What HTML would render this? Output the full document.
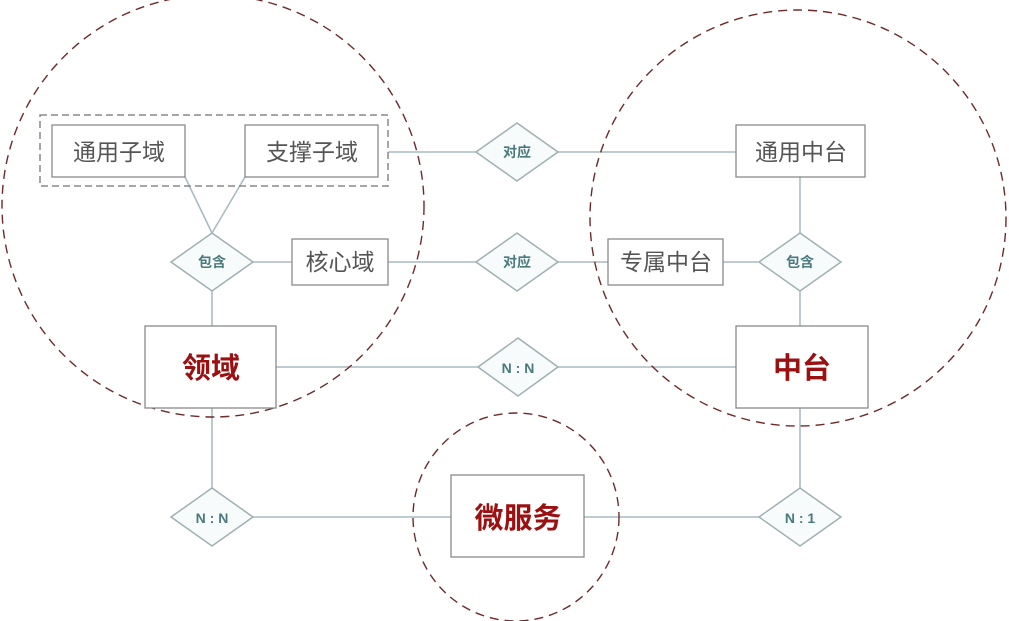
<!DOCTYPE html>
<html><head><meta charset="utf-8"><style>
html,body{margin:0;padding:0;background:#fff;}
svg{display:block;}
text{font-family:"Liberation Sans","Noto Sans CJK SC",sans-serif;}
</style></head><body>
<svg width="1009" height="621" viewBox="0 0 1009 621" xmlns="http://www.w3.org/2000/svg">
<g fill="none" stroke="#a9bcc4" stroke-width="1.6">
<line x1="185" y1="177" x2="212" y2="233"/>
<line x1="245" y1="177" x2="212" y2="233"/>
<line x1="253" y1="262" x2="292" y2="262"/>
<line x1="212" y1="291" x2="212" y2="326"/>
<line x1="388" y1="152" x2="476" y2="152"/>
<line x1="558" y1="152" x2="736" y2="152"/>
<line x1="388" y1="262" x2="476" y2="262"/>
<line x1="558" y1="262" x2="608" y2="262"/>
<line x1="723" y1="262" x2="758" y2="262"/>
<line x1="800" y1="177" x2="800" y2="233"/>
<line x1="800" y1="291" x2="800" y2="326"/>
<line x1="276" y1="367" x2="478" y2="367"/>
<line x1="558" y1="367" x2="736" y2="367"/>
<line x1="212" y1="408" x2="212" y2="488"/>
<line x1="253" y1="517" x2="451" y2="517"/>
<line x1="584" y1="517" x2="759" y2="517"/>
<line x1="800" y1="408" x2="800" y2="488"/>
</g>
<g fill="none" stroke="#6e2a2a" stroke-width="1.4" stroke-dasharray="9,6">
<circle cx="213" cy="206" r="211"/>
<circle cx="798" cy="218" r="208"/>
<ellipse cx="516" cy="517" rx="103" ry="104"/>
</g>
<rect x="40" y="115" width="348" height="71" fill="none" stroke="#888" stroke-width="1.5" stroke-dasharray="7,4"/>
<g fill="#fff" stroke="#8a8a8a" stroke-width="1.3">
<rect x="52" y="125" width="133" height="52"/>
<rect x="245" y="125" width="133" height="52"/>
<rect x="292" y="239" width="96" height="46"/>
<rect x="145" y="326" width="131" height="82"/>
<rect x="736" y="125" width="129" height="52"/>
<rect x="608" y="239" width="115" height="46"/>
<rect x="736" y="326" width="132" height="82"/>
<rect x="451" y="475" width="133" height="82"/>
</g>
<g fill="#f7fbfb" stroke="#9fb0b2" stroke-width="1.5">
<polygon points="212,233 253,262 212,291 171,262"/>
<polygon points="517,123 558,152 517,181 476,152"/>
<polygon points="517,233 558,262 517,291 476,262"/>
<polygon points="800,233 841,262 800,291 759,262"/>
<polygon points="518,338 558,367 518,396 478,367"/>
<polygon points="212,488 253,517 212,546 171,517"/>
<polygon points="800,488 841,517 800,546 759,517"/>
</g>
<g fill="#555" font-size="23" text-anchor="middle">
<text x="119" y="160">通用子域</text>
<text x="312" y="160">支撑子域</text>
<text x="340" y="270">核心域</text>
<text x="801" y="160">通用中台</text>
<text x="666" y="270">专属中台</text>
</g>
<g fill="#9b1111" font-size="29" font-weight="bold" text-anchor="middle">
<text x="211" y="378">领域</text>
<text x="802" y="378">中台</text>
<text x="518" y="528">微服务</text>
</g>
<g fill="#4a7a7e" font-size="14" font-weight="bold" text-anchor="middle">
<text x="212" y="267">包含</text>
<text x="517" y="157">对应</text>
<text x="517" y="267">对应</text>
<text x="800" y="267">包含</text>
<text x="518" y="373">N : N</text>
<text x="212" y="523">N : N</text>
<text x="800" y="523">N : 1</text>
</g>
</svg>
</body></html>
